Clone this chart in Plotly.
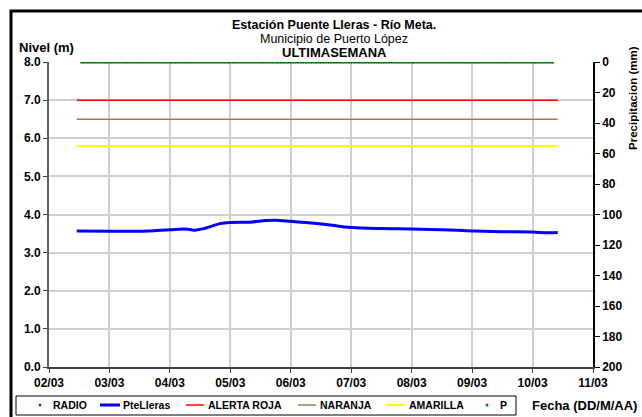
import plotly.graph_objects as go
import pandas as pd

# nivel del rio (m) - estacion Puente Lleras
fechas_nivel = ["2013-03-02 11:00", "2013-03-03 00:00", "2013-03-03 12:00", "2013-03-03 16:00",
                "2013-03-04 00:00", "2013-03-04 06:00", "2013-03-04 10:00", "2013-03-04 14:00",
                "2013-03-04 20:00", "2013-03-05 00:00", "2013-03-05 08:00", "2013-03-05 14:00",
                "2013-03-05 18:00", "2013-03-06 00:00", "2013-03-06 06:00", "2013-03-06 14:00",
                "2013-03-07 00:00", "2013-03-07 12:00", "2013-03-08 00:00", "2013-03-08 12:00",
                "2013-03-09 00:00", "2013-03-09 12:00", "2013-03-10 00:00", "2013-03-10 06:00",
                "2013-03-10 10:00"]
nivel = [3.57, 3.56, 3.56, 3.57,
         3.60, 3.62, 3.59, 3.64,
         3.76, 3.79, 3.80, 3.84,
         3.85, 3.82, 3.79, 3.74,
         3.66, 3.63, 3.62, 3.60,
         3.57, 3.55, 3.54, 3.52,
         3.53]

# umbrales de alerta (m)
alerta_roja = 7.0
naranja = 6.5
amarilla = 5.8
radio = 8.0
precip = 0.0

inicio, fin = "2013-03-02 11:00", "2013-03-10 10:00"
horas = pd.date_range("2013-03-02 13:00", "2013-03-10 08:00", freq="h")

F = "Liberation Sans, Arial, sans-serif"
BOLD = dict(family=F, size=12, color="black", weight="bold")
VERDE = "#008000"

fig = go.Figure()
fig.add_trace(go.Scatter(x=horas, y=[radio] * len(horas), mode="markers", name="RADIO",
                         marker=dict(color=VERDE, size=3)))
fig.add_trace(go.Scatter(x=fechas_nivel, y=nivel, mode="lines", name="PteLleras",
                         line=dict(color="#0000FF", width=3, shape="spline")))
fig.add_trace(go.Scatter(x=[inicio, fin], y=[alerta_roja] * 2, mode="lines", name="ALERTA ROJA",
                         line=dict(color="#FF0000", width=1.5)))
fig.add_trace(go.Scatter(x=[inicio, fin], y=[naranja] * 2, mode="lines", name="NARANJA",
                         line=dict(color="#A07850", width=1.5)))
fig.add_trace(go.Scatter(x=[inicio, fin], y=[amarilla] * 2, mode="lines", name="AMARILLA",
                         line=dict(color="#FFFF00", width=2)))
fig.add_trace(go.Scatter(x=horas, y=[precip] * len(horas), mode="markers", name="P", yaxis="y2",
                         marker=dict(color=VERDE, size=3)))

W, H = 642, 417
L, R, T, B = 49, 49, 62, 50
pw, ph = W - L - R, H - T - B


def px(x):
    return (x - L) / pw


def py(y):
    return (H - B - y) / ph


fig.update_layout(
    width=W, height=H,
    margin=dict(l=L, r=R, t=T, b=B, autoexpand=False),
    paper_bgcolor="white", plot_bgcolor="white",
    font=dict(family=F, size=11, color="black"),
    showlegend=False,
    xaxis=dict(type="date", range=["2013-03-02", "2013-03-11"], dtick=86400000,
               tick0="2013-03-02", tickformat="%d/%m", showgrid=True, automargin=False,
               gridcolor="#D0D0D0", gridwidth=1.5, showline=True, linecolor="#404040",
               linewidth=2, ticks="outside", ticklen=4, tickcolor="#404040",
               tickfont=BOLD, zeroline=False),
    yaxis=dict(range=[0, 8], dtick=1, tickformat=".1f", showgrid=True, gridcolor="#D0D0D0",
               gridwidth=1.5, showline=True, linecolor="#606060", linewidth=2, automargin=False,
               ticks="outside", ticklen=4, tickcolor="#404040", zeroline=False,
               tickfont=BOLD),
    yaxis2=dict(overlaying="y", side="right", range=[200, 0], dtick=20, showgrid=False,
                showline=True, linecolor="black", linewidth=1.5, ticks="outside",
                ticklen=5, tickcolor="black", tickfont=BOLD, zeroline=False, automargin=False),
)

anns = [
    dict(text="Estación Puente Lleras - Río Meta.", x=334, y=25, w="bold", s=12.5),
    dict(text="Municipio de Puerto López", x=334, y=39, w="normal", s=12.5),
    dict(text="ULTIMASEMANA", x=334, y=53, w="bold", s=13),
    dict(text="Nivel (m)", x=46, y=48, w="bold", s=13),
    dict(text="Fecha (DD/M/AA)", x=584, y=405, w="bold", s=13),
]
for a in anns:
    fig.add_annotation(text=a["text"], x=px(a["x"]), y=py(a["y"]), xref="paper", yref="paper",
                       xanchor="center", yanchor="middle",
                       showarrow=False, font=dict(size=a["s"], family=F, weight=a["w"]))
fig.add_annotation(text="Precipitacion (mm)", x=px(633), y=py(98), xref="paper",
                   yref="paper", xanchor="center", yanchor="middle",
                   showarrow=False, textangle=-90, font=dict(family=F, size=11.5, weight="bold"))

# leyenda dibujada (posiciones en pixeles de la imagen)
ley_y = 405
ley_x = [(34, 46, 51), (100, 120, 121), (186, 204, 206), (298, 316, 318), (386, 405, 407),
         (481, 493, 498)]
fig.add_shape(type="rect", xref="paper", yref="paper", x0=px(16), y0=py(396), x1=px(516),
              y1=py(415), line=dict(color="black", width=1))
for tr, (x0, x1, xt) in zip(fig.data, ley_x):
    if tr.mode == "markers":
        c = (x0 + x1) / 2
        fig.add_shape(type="circle", xref="paper", yref="paper", x0=px(c - 1.5), x1=px(c + 1.5),
                      y0=py(ley_y - 1.5), y1=py(ley_y + 1.5),
                      fillcolor=tr.marker.color, line=dict(width=0))
    else:
        fig.add_shape(type="line", xref="paper", yref="paper", x0=px(x0), x1=px(x1),
                      y0=py(ley_y), y1=py(ley_y), line=dict(color=tr.line.color, width=tr.line.width))
    fig.add_annotation(text=tr.name, x=px(xt), y=py(ley_y), xref="paper", yref="paper",
                       xanchor="left", yanchor="middle", showarrow=False,
                       font=dict(family=F, size=10.5, weight="bold"))

# marco exterior
fig.add_shape(type="rect", xref="paper", yref="paper", x0=px(11), y0=py(11), x1=px(700),
              y1=py(460), line=dict(color="black", width=3))

fig.write_html("out.html", config={"displayModeBar": False},
               post_script="document.body.style.margin='0';")
